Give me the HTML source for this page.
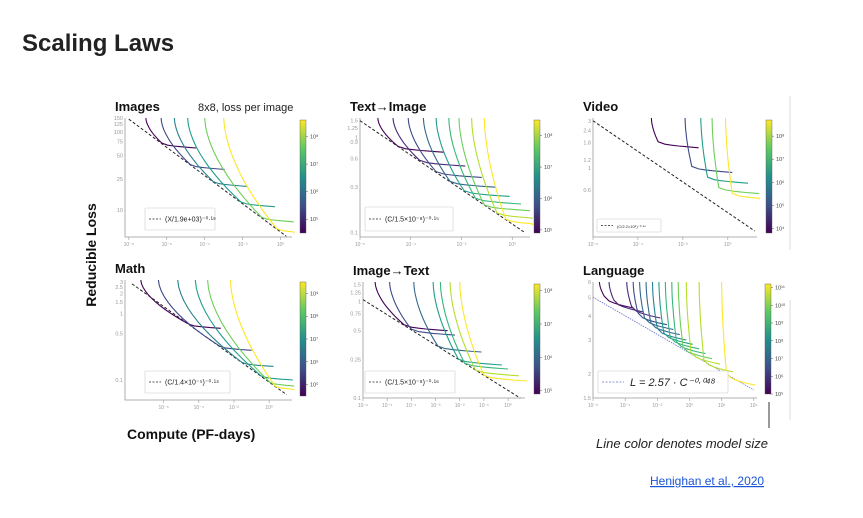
<!DOCTYPE html>
<html><head><meta charset="utf-8"><style>
html,body{margin:0;padding:0;background:#fff;width:863px;height:518px;overflow:hidden;font-family:"Liberation Sans",sans-serif}
svg text{font-family:"Liberation Sans",sans-serif}
</style></head><body>
<svg id="s" width="863" height="518" viewBox="0 0 863 518" xmlns="http://www.w3.org/2000/svg">
<defs><linearGradient id="vir" x1="0" y1="1" x2="0" y2="0">
<stop offset="0" stop-color="#440154"/><stop offset="0.25" stop-color="#3b528b"/><stop offset="0.5" stop-color="#21918c"/><stop offset="0.75" stop-color="#5ec962"/><stop offset="1" stop-color="#fde725"/></linearGradient></defs>
<text x="22" y="51" font-size="24" font-weight="bold" fill="#222">Scaling Laws</text>
<line x1="790" y1="96" x2="790" y2="250" stroke="#ddd"/>
<line x1="790" y1="300" x2="790" y2="420" stroke="#ddd"/>
<text transform="translate(96,255) rotate(-90)" text-anchor="middle" font-size="14" font-weight="bold" fill="#111">Reducible  Loss</text>
<text x="127" y="439" font-size="14" font-weight="bold" fill="#111">Compute (PF-days)</text>
<text x="596" y="448" font-size="13" font-style="italic" fill="#222">Line color denotes model size</text>
<line x1="769" y1="402" x2="769" y2="428" stroke="#333"/>
<text x="650" y="485" font-size="12" fill="#1a55d6" text-decoration="underline">Henighan et al., 2020</text>
<g id="panels"></g>
</svg>
<script>
// data per panel
const panelNames=["images","text-to-image","video","math","image-to-text","language"];
const panelTitles=["Images","Text\u2192Image","Video","Math","Image\u2192Text","Language"];
const xDomains=[[-8.2,0.6],[-6,0.7],[-6,1.3],[-8.2,1.3],[-6,0.7],[-6,4.2]];
const yDomains=[[4.5,150],[0.09,1.6],[0.2,3.2],[0.05,3.2],[0.1,1.6],[1.5,6]];
const frontierX=[[-8,0.3],[-6,0.5],[-6,1.2],[-7.8,1.0],[-6,0.5],[-6,4]];
const frontierY=[[145,4.6],[1.5,0.1],[3.0,0.23],[2.8,0.06],[1.05,0.1],[5,1.65]];
const curveStarts=[[-7.1,-6.3,-5.6,-4.9,-4.0,-3.0],[-5.3,-4.7,-4.1,-3.5,-3.0,-2.5,-2.1,-1.6,-1.1],[-3.4,-1.9,-1.2,-0.7,-0.1],[-7.3,-6.3,-5.2,-4.2,-3.5,-2.2],[-5.5,-4.9,-3.9,-3.1,-2.8,-2.4,-2.0],[-5.6,-5.0,-3.9,-3.5,-3.1,-2.7,-2.3,-1.9,-1.5,-1.1,-0.7,-0.2,0.6,2.0]];
const curvePlateaus=[[62,33,20,11,7,5],[0.7,0.5,0.38,0.3,0.24,0.2,0.17,0.14,0.12],[1.6,0.9,0.7,0.55,0.48],[0.6,0.28,0.16,0.1,0.08,0.07],[0.5,0.45,0.3,0.22,0.2,0.17,0.15],[4.4,4.2,3.9,3.6,3.4,3.2,3.0,2.85,2.7,2.55,2.4,2.25,2.05,1.75]];
const xTickExp=[[-8,-6,-4,-2,0],[-6,-4,-2,0],[-6,-4,-2,0],[-6,-4,-2,0],[-6,-5,-4,-3,-2,-1,0],[-6,-4,-2,0,2,4]];
const yTickLabels=[[150,125,100,75,50,25,10],[1.5,1.25,1.0,0.9,0.6,0.3,0.1],[3.0,2.4,1.8,1.2,1.0,0.6],[3.0,2.5,2.0,1.5,1.0,0.5,0.1],[1.5,1.25,1.0,0.75,0.5,0.25,0.1],[6,5,4,3,2,1.5]];
const cbExp=[[5,6,7,8],[5,6,7,8],[4,5,6,7,8],[5,6,7,8,9],[5,6,7,8],[5,6,7,8,9,10,11]];
const cbRange=[[4.5,8.6],[4.9,8.5],[3.8,8.7],[4.5,9.5],[4.9,8.2],[5,11.2]];
const legends=["(X/1.9e+03)\u207B\u2070\u00B7\u00B9\u2079","(C/1.5\u00D710\u207B\u2078)\u207B\u2070\u00B7\u00B9\u2075","(C/2.2\u00D710\u2075)\u207B\u2070\u00B7\u00B9\u2074","(C/1.4\u00D710\u207B\u2075)\u207B\u2070\u00B7\u00B9\u2074","(C/1.5\u00D710\u207B\u2078)\u207B\u2070\u00B7\u00B9\u2076","L = 2.57 \u00B7 C\u207B\u2070\u00B7\u2070\u2074\u2078"];
// layout
const frames=[[125,292,118,237],[360,530,118,237],[593,757,118,237],[125,292,280,400],[363,525,282,398],[593,757,282,398]];
const cbX=[300,534,766,300,534,765];
const legBox=[[145,208,70,22],[365,207,88,24],[597,219,64,13],[145,371,85,22],[365,371,90,22],[598,371,130,22]];
const NS="http://www.w3.org/2000/svg";
const root=document.getElementById('panels');
function mk(t,a,p){const e=document.createElementNS(NS,t);for(const k in a)e.setAttribute(k,a[k]);(p||root).appendChild(e);return e;}
const vir=["#440154","#482878","#3e4989","#31688e","#26828e","#1f9e89","#35b779","#6ece58","#b5de2b","#fde725"];
function vcol(t){t=Math.max(0,Math.min(1,t));const i=t*(vir.length-1);return vir[Math.round(i)];}
const sup={"-":"\u207B","0":"\u2070","1":"\u00B9","2":"\u00B2","3":"\u00B3","4":"\u2074","5":"\u2075","6":"\u2076","7":"\u2077","8":"\u2078","9":"\u2079"};
function pw(n){return "10"+String(n).split("").map(c=>sup[c]).join("");}
panelNames.forEach((nm,p)=>{
  const [L,R,T,B]=frames[p],xd=xDomains[p],yd=yDomains[p];
  const g=mk('g',{});
  
  
  const X=v=>L+(v-xd[0])/(xd[1]-xd[0])*(R-L);
  const Y=v=>B-(Math.log10(v)-Math.log10(yd[0]))/(Math.log10(yd[1])-Math.log10(yd[0]))*(B-T);
  const t=mk('text',{x:L-10,y:T-7,'font-size':13,'font-weight':'bold',fill:'#111'},g);t.textContent=panelTitles[p];
  
  
  if(p==0){const s=mk('text',{x:198,y:T-7,'font-size':11,fill:'#222'},g);s.textContent="8x8, loss per image";}
  const ax=mk('path',{d:`M${L},${T} V${B} H${R}`,stroke:'#999',fill:'none','stroke-width':0.8},g);
  
  
  xTickExp[p].forEach(e=>{const x=X(e);mk('line',{x1:x,x2:x,y1:B,y2:B+3,stroke:'#999','stroke-width':0.6},g);
    const tx=mk('text',{x:x,y:B+9,'font-size':5,fill:'#999','text-anchor':'middle'},g);tx.textContent=pw(e);});
  yTickLabels[p].forEach(v=>{const y=Y(v);if(y<T-4||y>B+4)return;
    const tx=mk('text',{x:L-2,y:y+2,'font-size':5.5,fill:'#999','text-anchor':'end'},g);tx.textContent=v;});
  const fx=frontierX[p],fy=frontierY[p];
  const fr=mk('line',{x1:X(fx[0]),y1:Y(fy[0]),x2:X(fx[1]),y2:Y(fy[1]),stroke:p==5?'#6670d0':'#222','stroke-width':p==5?0.8:1,'stroke-dasharray':p==5?'1.5,1':'3,2'},g);
  
  
  const fLoss=x=>{const k=(x-fx[0])/(fx[1]-fx[0]);return Math.pow(10,Math.log10(fy[0])+k*(Math.log10(fy[1])-Math.log10(fy[0])));};
  const n=curveStarts[p].length;
  curveStarts[p].forEach((s,i)=>{
    const pl=curvePlateaus[p][i];const top=yd[1];
    let xm=s+0.3;while(xm<xd[1]&&fLoss(xm)>pl*1.15)xm+=0.05;
    const target=Math.max(pl*1.15,fLoss(xm));
    const pts=[];
    for(let k=0;k<=12;k++){const u=k/12;
      const x=s+(xm-s)*Math.pow(u,1.7);
      const ly=Math.log10(top)+(Math.log10(target)-Math.log10(top))*u;
      pts.push([x,Math.pow(10,ly)]);}
    for(let k=1;k<=6;k++){const u=k/6;
      const x=Math.min(xm+1.8*u,xd[1]+0.1);
      const ly=Math.log10(target)+(Math.log10(pl)-Math.log10(target))*Math.sqrt(u);
      pts.push([x,Math.pow(10,ly)]);}
    const d=pts.map((q,j)=>(j?'L':'M')+X(q[0]).toFixed(1)+','+Math.max(T,Y(q[1])).toFixed(1)).join(' ');
    const c=mk('path',{d:d,fill:'none',stroke:vcol(n==1?0:i/(n-1)),'stroke-width':1.1},g);
    
    
  });
  const lb=legBox[p];
  const r=mk('rect',{x:lb[0],y:lb[1],width:lb[2],height:lb[3],fill:'#fff',stroke:'#ccc','stroke-width':0.6,rx:1},g);
  
  
  mk('line',{x1:lb[0]+4,x2:lb[0]+(p==5?26:16),y1:lb[1]+lb[3]/2,y2:lb[1]+lb[3]/2,stroke:p==5?'#6670d0':'#222','stroke-dasharray':'2,1.5','stroke-width':0.8},g);
  const lt=mk('text',{x:lb[0]+(p==5?32:20),y:lb[1]+lb[3]/2+(p==5?4:2.5),'font-size':p==5?11:(p==2?4:7),fill:'#222',
    'font-style':p==5?'italic':'normal'},g);lt.textContent=legends[p];
  const cbT=T+2,cbB=B-4,cr=cbRange[p];
  const cb=mk('rect',{x:cbX[p],y:cbT,width:6,height:cbB-cbT,fill:'url(#vir)',stroke:'#555','stroke-width':0.4},g);
  
  
  cbExp[p].forEach(e=>{const y=cbB-(e-cr[0])/(cr[1]-cr[0])*(cbB-cbT);
    mk('line',{x1:cbX[p]+6,x2:cbX[p]+8,y1:y,y2:y,stroke:'#555','stroke-width':0.5},g);
    const tx=mk('text',{x:cbX[p]+10,y:y+2,'font-size':5.5,fill:'#444'},g);tx.textContent=pw(e);});
});
</script>
</body></html>
